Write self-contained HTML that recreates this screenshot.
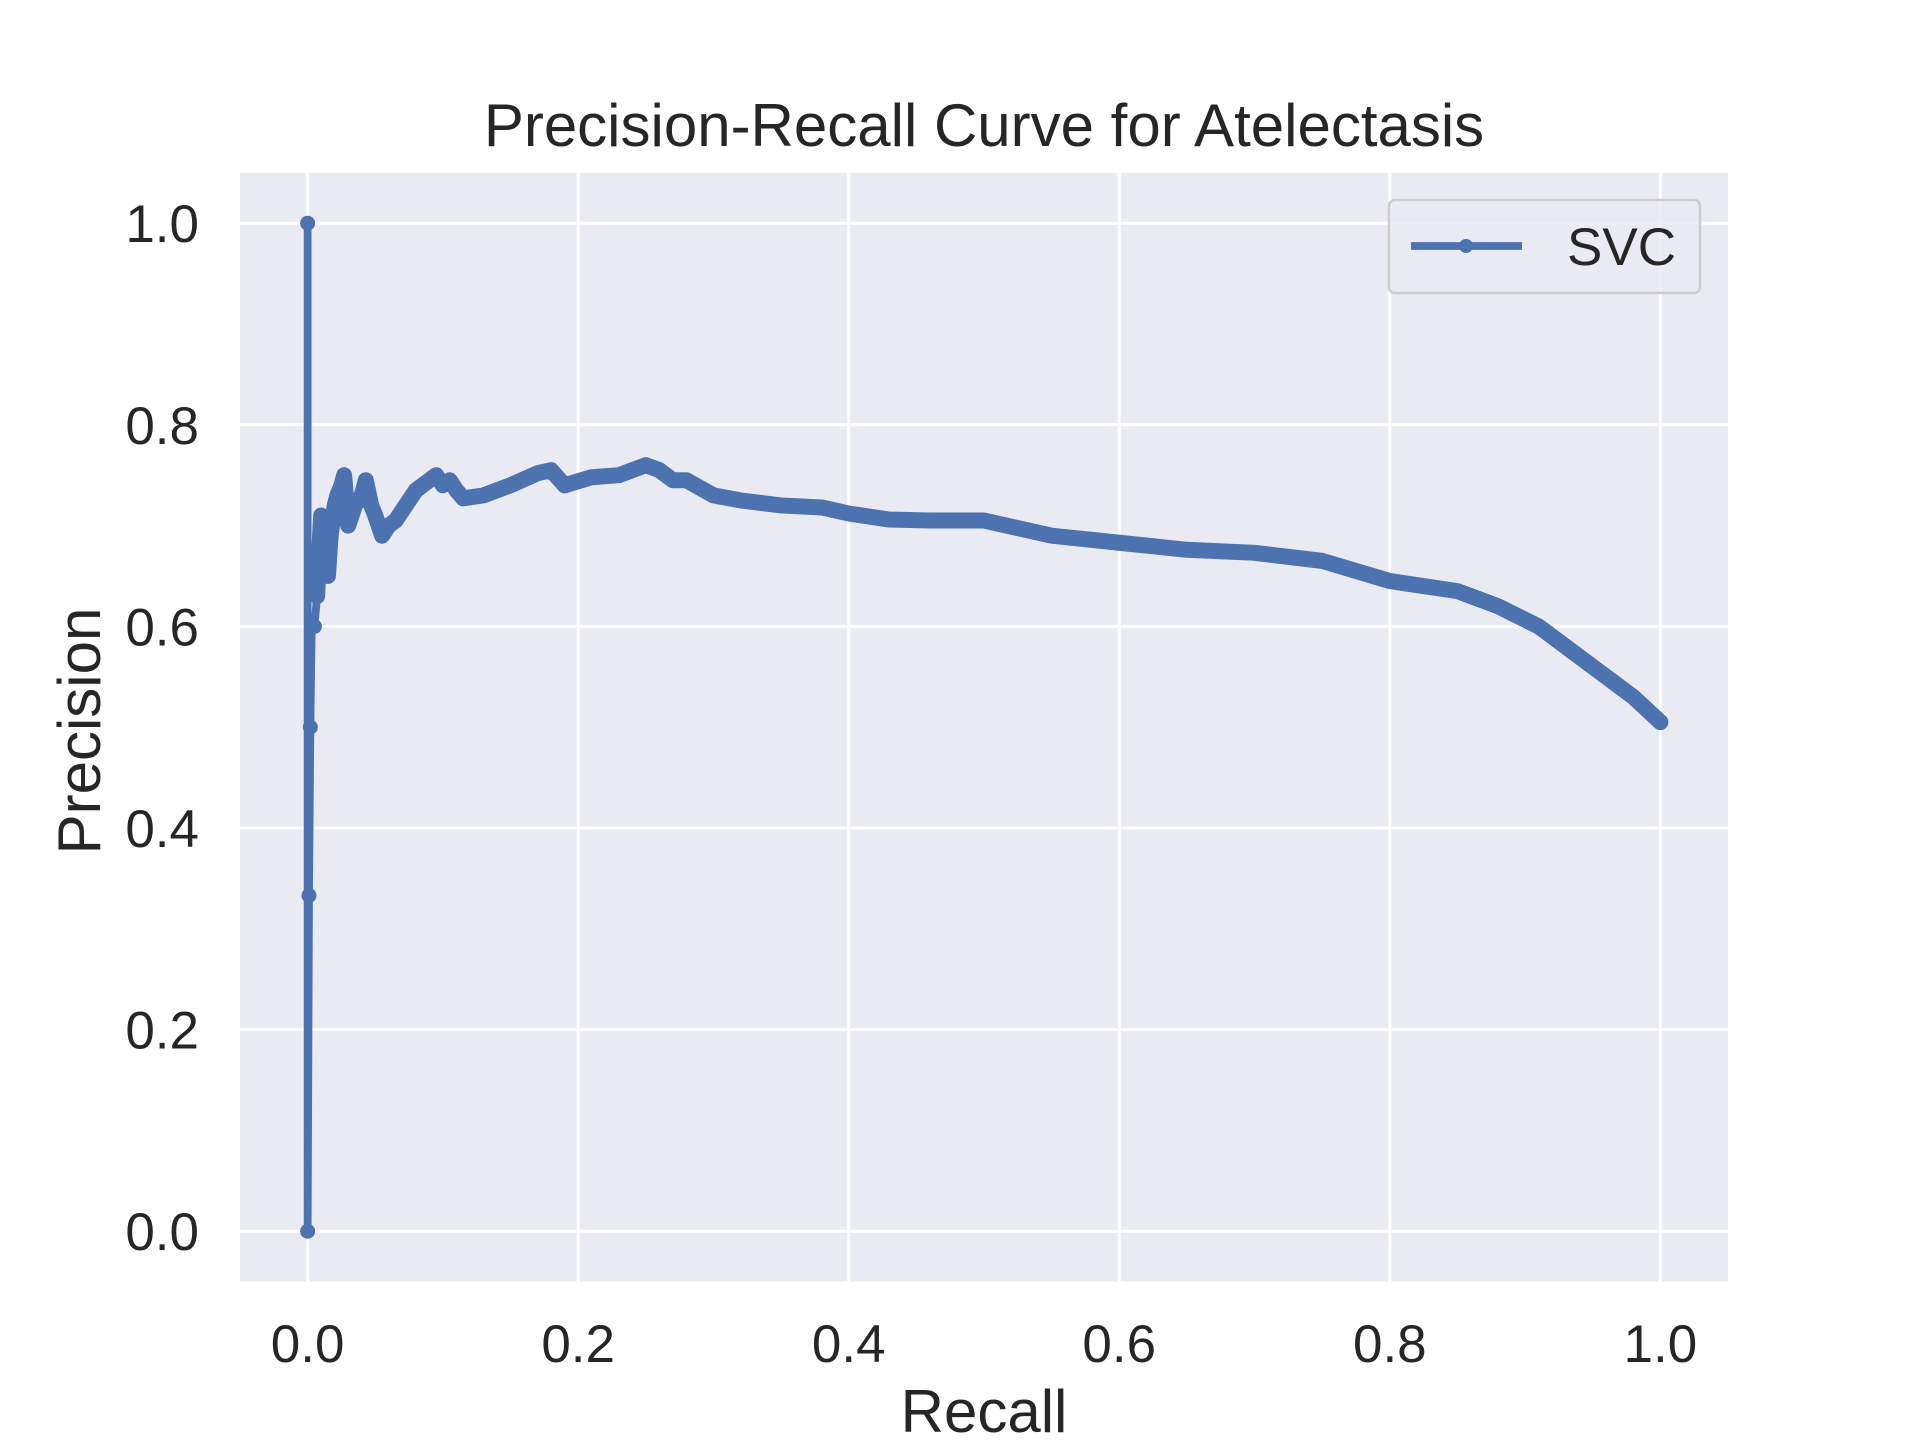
<!DOCTYPE html>
<html><head><meta charset="utf-8"><style>
html,body{margin:0;padding:0;background:#fff;}
svg{display:block;font-family:"Liberation Sans",sans-serif;}
</style></head><body>
<svg id="chart" width="1920" height="1440" viewBox="0 0 1920 1440" xmlns="http://www.w3.org/2000/svg">
<rect width="1920" height="1440" fill="#fff"/>
<rect x="240" y="172.8" width="1488" height="1108.8" fill="#eaeaf2"/>
<g id="grid"></g>
<g id="series"></g>
<g id="ticks" fill="#262626" font-size="53"></g>
<text x="984" y="146" text-anchor="middle" font-size="60" fill="#262626">Precision-Recall Curve for Atelectasis</text>
<text x="984" y="1432" text-anchor="middle" font-size="60" fill="#262626">Recall</text>
<text transform="translate(100,731) rotate(-90)" text-anchor="middle" font-size="60" fill="#262626">Precision</text>
<g>
<rect x="1389" y="200" width="311" height="93" rx="6" fill="#eaeaf2" fill-opacity="0.8" stroke="#cccccc" stroke-width="2.5"/>
<line x1="1411" y1="246" x2="1522" y2="246" stroke="#4c72b0" stroke-width="7.8"/>
<circle cx="1466" cy="246" r="7" fill="#4c72b0"/>
<text x="1567" y="265" font-size="53" fill="#262626">SVC</text>
</g>
</svg>
<script>
const recall = [0,0,0.001,0.002,0.003,0.005,0.007,0.008,0.01,0.012,0.015,0.017,0.02,0.022,0.025,0.027,0.03,0.035,0.04,0.043,0.047,0.05,0.055,0.06,0.065,0.07,0.08,0.09,0.095,0.1,0.105,0.11,0.115,0.13,0.15,0.17,0.18,0.19,0.21,0.23,0.25,0.26,0.27,0.28,0.3,0.32,0.35,0.38,0.4,0.43,0.46,0.5,0.55,0.6,0.65,0.7,0.75,0.8,0.85,0.88,0.91,0.93,0.96,0.98,1.0];
const precision = [1.0,0.0,0.333,0.5,0.6,0.6,0.63,0.66,0.71,0.68,0.65,0.69,0.72,0.73,0.74,0.75,0.70,0.72,0.73,0.745,0.72,0.71,0.69,0.70,0.705,0.715,0.735,0.745,0.75,0.74,0.745,0.735,0.727,0.73,0.74,0.752,0.755,0.74,0.748,0.75,0.76,0.755,0.745,0.745,0.73,0.725,0.72,0.718,0.712,0.706,0.705,0.705,0.69,0.683,0.676,0.673,0.665,0.645,0.635,0.62,0.60,0.58,0.55,0.53,0.505];
const xTicks = [0,0.2,0.4,0.6,0.8,1.0];
const yTicks = [0,0.2,0.4,0.6,0.8,1.0];
const xTickLabels = ["0.0","0.2","0.4","0.6","0.8","1.0"];
const yTickLabels = ["0.0","0.2","0.4","0.6","0.8","1.0"];

const L=240,R=1728,T=172.8,B=1281.6;
function sx(v){return L+(v+0.05)/1.1*(R-L);}
function sy(v){return B-(v+0.05)/1.1*(B-T);}
const NS="http://www.w3.org/2000/svg";
function mk(tag,attrs,parent){const e=document.createElementNS(NS,tag);for(const k in attrs)e.setAttribute(k,attrs[k]);parent.appendChild(e);return e;}
const grid=document.getElementById('grid'),ticks=document.getElementById('ticks'),series=document.getElementById('series');
xTicks.forEach((v,i)=>{
  const g=mk('line',{x1:sx(v),x2:sx(v),y1:T,y2:B,stroke:'#fff','stroke-width':3},grid);
  
  
  const t=mk('text',{x:sx(v),y:1362,'text-anchor':'middle'},ticks);
  t.textContent=xTickLabels[i];
  
  
});
yTicks.forEach((v,i)=>{
  const g=mk('line',{x1:L,x2:R,y1:sy(v),y2:sy(v),stroke:'#fff','stroke-width':3},grid);
  
  
  const t=mk('text',{x:199,y:sy(v)+19,'text-anchor':'end'},ticks);
  t.textContent=yTickLabels[i];
  
  
});
const pts=recall.map((r,i)=>sx(r)+','+sy(precision[i]));
const line=mk('polyline',{points:pts.join(' '),fill:'none',stroke:'#4c72b0','stroke-width':7.8,'stroke-linejoin':'round'},series);


const thick=mk('polyline',{points:pts.slice(6).join(' '),fill:'none',stroke:'#4c72b0','stroke-width':16,'stroke-linejoin':'round','stroke-linecap':'round'},series);


recall.forEach((r,i)=>{
  const c=mk('circle',{cx:sx(r),cy:sy(precision[i]),r:7.5,fill:'#4c72b0'},series);
  
  
});
</script>
</body></html>
